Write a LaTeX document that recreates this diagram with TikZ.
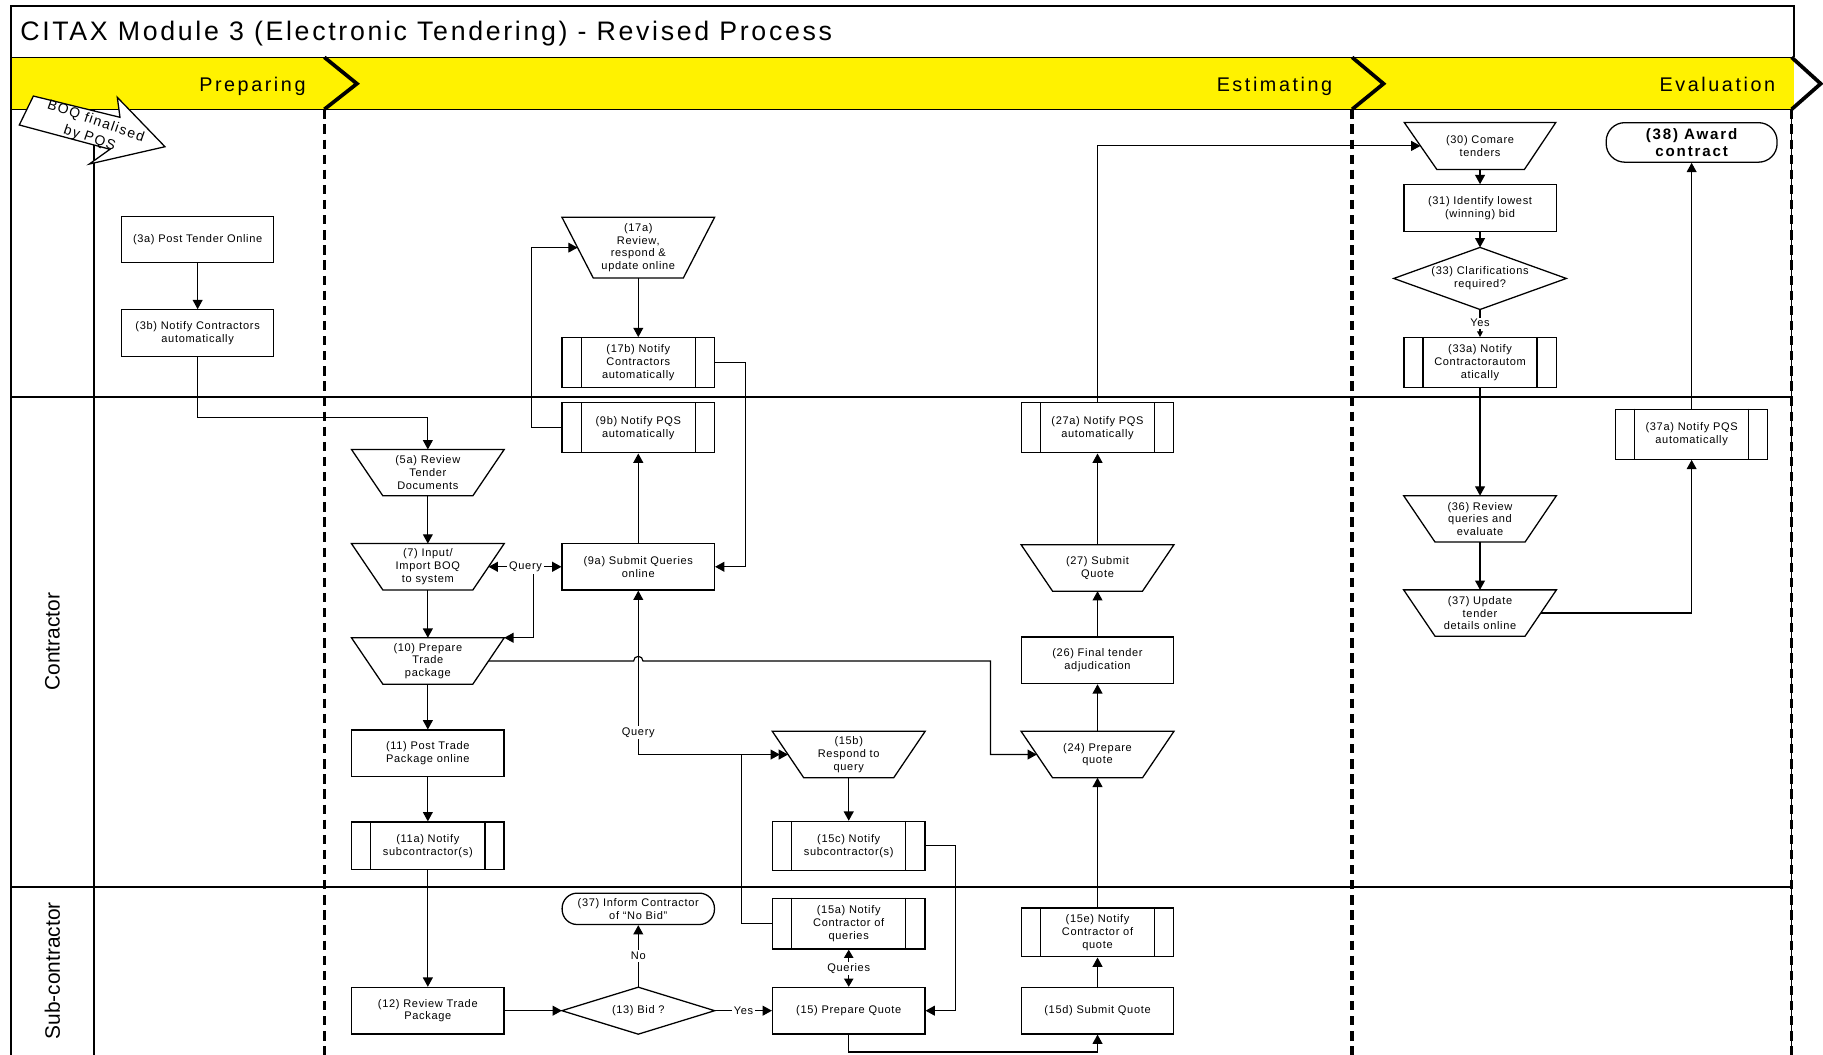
\documentclass[tikz,border=0pt]{standalone}
\usepackage{fontspec}
\setmainfont{Liberation Sans}
\newfontfamily\lsfont[LetterSpace=6]{Liberation Sans}
\newfontfamily\titfont[LetterSpace=10]{Liberation Sans}
\newfontfamily\phfont[LetterSpace=13]{Liberation Sans}
\newfontfamily\boqfont[LetterSpace=10]{Liberation Sans}
\newfontfamily\awfont[LetterSpace=12]{Liberation Sans}
\usetikzlibrary{arrows.meta}
\tikzset{
 bx/.style={font=\lsfont\fontsize{9.5}{11}\selectfont, align=center, inner sep=0pt, minimum width=131pt},
 proc/.style={bx, draw, line width=1.1pt, minimum height=40pt},
 pre/.style={bx, draw, line width=1.1pt, minimum height=43pt},
 man/.style={bx, minimum height=39.5pt},
 dec/.style={bx, minimum height=40pt},
 term/.style={bx, draw, line width=1.1pt, rounded corners=13pt, minimum height=27pt},
 outl/.style={line width=1.1pt, line join=miter},
 arr/.style={line width=1pt, -{Triangle[length=8pt,width=8.5pt]}},
 lbl/.style={font=\lsfont\fontsize{9.5}{11}\selectfont, fill=white, inner sep=1.5pt},
 phase/.style={dash pattern=on 8pt off 5pt, line width=3.2pt},
 lane/.style={line width=1.4pt},
 chev/.style={line width=3.2pt, line join=miter},
}
\begin{document}
\begin{tikzpicture}[x=1pt,y=-1pt]
\useasboundingbox (0,0) rectangle (1568,907);
% frame and band
\fill[yellow] (9.5,49.3) rectangle (1543,94);
\draw[line width=1.2pt] (9.5,907) -- (9.5,5.2) -- (1543,5.2) -- (1543,49.3);
\draw[line width=1.2pt] (9.5,49.3) -- (1543,49.3);
\draw[line width=1.2pt] (9.5,94) -- (1543,94);
\draw[lane] (9.5,341.2) -- (1541,341.2);
\draw[lane] (9.5,762.7) -- (1541,762.7);
\draw[lane] (81,94) -- (81,907);
\draw[line width=1.2pt] (1541,94) -- (1541,907);
\draw[phase] (279,94) -- (279,907);
\draw[phase] (1163,94) -- (1163,907);
\draw[phase] (1541,94) -- (1541,907);
\draw[chev] (279,49.3) -- (307,72) -- (279,94);
\draw[chev] (1163,49.3) -- (1190,72) -- (1163,94);
\draw[chev] (1541,49.3) -- (1566,72) -- (1541,94);
% titles
\node[anchor=base west, font=\titfont\fontsize{23}{28}\selectfont, inner sep=0pt] (title) at (17.3,35) {CITAX Module 3 (Electronic Tendering) - Revised Process};
\node[anchor=base east, font=\phfont\fontsize{17}{20}\selectfont, inner sep=0pt] (ph1) at (263,79) {Preparing};
\node[anchor=base east, font=\phfont\fontsize{17}{20}\selectfont, inner sep=0pt] (ph2) at (1146,79) {Estimating};
\node[anchor=base east, font=\phfont\fontsize{17}{20}\selectfont, inner sep=0pt] (ph3) at (1527,79) {Evaluation};
\node[rotate=90, font=\fontsize{18}{21}\selectfont] (l1) at (45,552) {Contractor};
\node[rotate=90, font=\fontsize{18}{21}\selectfont] (l2) at (45,835) {Sub-contractor};
% BOQ arrow
\draw[line width=1.1pt, fill=white, line join=miter] (28.7,82.6) -- (103.2,100.9) -- (100.9,83.7) -- (141.9,126.2) -- (76.8,141.1) -- (94.6,128.4) -- (16.6,107.5) -- cycle;
\node[rotate=-19, font=\boqfont\fontsize{12}{14}\selectfont, inner sep=0pt] (boq1) at (82.3,104.5) {BOQ finalised};
\node[rotate=-19, font=\boqfont\fontsize{12}{14}\selectfont, inner sep=0pt] (boq2) at (77,119) {by PQS};
% nodes
\node[proc] (a3a) at (170,206) {(3a) Post Tender Online};
\node[proc] (a3b) at (170,286.5) {(3b) Notify Contractors\\automatically};
\node[man, minimum height=52pt] (a17a) at (549,213) {(17a)\\Review,\\respond \&\\update online};
\node[pre] (a17b) at (549,312) {(17b) Notify\\Contractors\\automatically};
\node[pre] (a9b) at (549,368) {(9b) Notify PQS\\automatically};
\node[pre] (a27a) at (944,368) {(27a) Notify PQS\\automatically};
\node[pre] (a37a) at (1455,373.5) {(37a) Notify PQS\\automatically};
\node[man, minimum width=130pt, minimum height=40pt] (a30) at (1273,125.5) {(30) Comare\\tenders};
\node[proc] (a31) at (1273,179) {(31) Identify lowest\\(winning) bid};
\node[dec, minimum width=148pt, minimum height=53pt] (a33) at (1273,239.5) {(33) Clarifications\\required?};
\node[pre] (a33a) at (1273,312) {(33a) Notify\\Contractorautom\\atically};
\node[term, minimum width=147pt, minimum height=34pt, rounded corners=16pt, font=\awfont\bfseries\fontsize{13}{15}\selectfont] (a38) at (1455,122.5) {(38) Award\\contract};
\node[man] (a5a) at (368,406.5) {(5a) Review\\Tender\\Documents};
\node[man] (a7) at (368,487.5) {(7) Input/\\Import BOQ\\to system};
\node[proc] (a9a) at (549,487.5) {(9a) Submit Queries\\online};
\node[man] (a10) at (368,568.5) {(10) Prepare\\Trade\\package};
\node[proc] (a11) at (368,648) {(11) Post Trade\\Package online};
\node[pre, minimum height=41pt] (a11a) at (368,727.5) {(11a) Notify\\subcontractor(s)};
\node[man] (a15b) at (730,649) {(15b)\\Respond to\\query};
\node[pre, minimum height=42pt] (a15c) at (730,727.5) {(15c) Notify\\subcontractor(s)};
\node[man] (a24) at (944,649) {(24) Prepare\\quote};
\node[proc] (a26) at (944,568) {(26) Final tender\\adjudication};
\node[man] (a27) at (944,488.5) {(27) Submit\\Quote};
\node[man] (a36) at (1273,446.3) {(36) Review\\queries and\\evaluate};
\node[man] (a37) at (1273,527.3) {(37) Update\\tender\\details online};
\node[proc] (a12) at (368,869.3) {(12) Review Trade\\Package};
\node[dec] (a13) at (549,869.3) {(13) Bid ?};
\node[term] (a37i) at (549,781.7) {(37) Inform Contractor\\of “No Bid”};
\node[pre, minimum height=43.6pt] (a15a) at (730,794.5) {(15a) Notify\\Contractor of\\queries};
\node[proc] (a15) at (730,869.3) {(15) Prepare Quote};
\node[pre, minimum height=42pt] (a15e) at (944,802) {(15e) Notify\\Contractor of\\quote};
\node[proc] (a15d) at (944,869.3) {(15d) Submit Quote};
% outlines
\foreach \n in {a5a,a7,a10,a15b,a24,a27,a36,a37,a17a}
  \draw[outl] (\n.north west) -- (\n.north east) -- ([xshift=-27pt]\n.south east) -- ([xshift=27pt]\n.south west) -- cycle;
\draw[outl] (a30.north west) -- (a30.north east) -- ([xshift=-27pt]a30.south east) -- ([xshift=28pt]a30.south west) -- cycle;
\foreach \n in {a17b,a9b,a27a,a37a,a33a,a11a,a15c,a15a,a15e}
  \draw[outl] ([xshift=17pt]\n.north west) -- ([xshift=17pt]\n.south west) ([xshift=-17pt]\n.north east) -- ([xshift=-17pt]\n.south east);
\foreach \n in {a33,a13}
  \draw[outl] (\n.north) -- (\n.east) -- (\n.south) -- (\n.west) -- cycle;
% connectors
\draw[arr] (a3a.south) -- (a3b.north);
\draw[arr] (a3b.south) -- ++(0,52) -| (a5a.north);
\draw[arr] (a17a.south) -- (a17b.north);
\draw[arr] (a17b.east) -- ++(26,0) |- (a9a.east);
\draw[arr] (a9b.west) -- ++(-26,0) |- ([xshift=13.5pt]a17a.west);
\draw[arr] (a9a.north) -- (a9b.south);
\draw[arr] (a5a.south) -- (a7.north);
\draw[arr] (a7.south) -- (a10.north);
\draw[arr] (a10.south) -- (a11.north);
\draw[arr] (a11.south) -- (a11a.north);
\draw[arr] (a11a.south) -- (a12.north);
\coordinate (jq) at (459,487.5);
\draw[arr] (jq) -- ([xshift=-13.5pt]a7.east);
\draw[arr] (jq) -- (a9a.west);
\draw[arr] (jq) |- (a10.north east);
\node[lbl] (q1) at (452,487.5) {Query};
\draw[arr] ([xshift=-13.5pt]a10.east) -- (545,568.5) arc[start angle=180,end angle=0,radius=4pt] -- (852,568.5) |- ([xshift=13.5pt]a24.west);
\coordinate (jq2) at (638,649);
\draw[arr] (a15a.west) -| (jq2) -- ([xshift=13.5pt]a15b.west);
\draw[arr, shorten >=7pt] (jq2) -- ([xshift=13.5pt]a15b.west);
\draw[arr] (jq2) -| (a9a.south);
\node[lbl] (q2) at (549,630) {Query};
\draw[arr] (a15b.south) -- (a15c.north);
\draw[arr] (a15c.east) -- ++(26,0) |- (a15.east);
\draw[arr] (a12.east) -- (a13.west);
\draw[arr] (a13.east) -- (a15.west);
\node[lbl] (y1) at (639.5,869.3) {Yes};
\draw[arr] (a13.north) -- (a37i.south);
\node[lbl] (n1) at (549,822.3) {No};
\draw[line width=1pt, {Triangle[length=7pt,width=8pt]}-{Triangle[length=7pt,width=8pt]}] (a15.north) -- (a15a.south);
\node[lbl] (qs) at (730,833) {Queries};
\draw[arr] (a15.south) -- ++(0,15) -| (a15d.south);
\draw[arr] (a15d.north) -- (a15e.south);
\draw[arr] (a15e.north) -- (a24.south);
\draw[arr] (a24.north) -- (a26.south);
\draw[arr] (a26.north) -- (a27.south);
\draw[arr] (a27.north) -- (a27a.south);
\draw[arr] (a27a.north) |- ([xshift=14pt]a30.west);
\draw[arr] (a30.south) -- (a31.north);
\draw[arr] (a31.south) -- (a33.north);
\draw[line width=1pt, -{Triangle[length=5pt,width=5pt]}] (a33.south) -- (a33a.north);
\node[lbl] (y2) at (1273,278) {Yes};
\draw[arr] (a33a.south) -- (a36.north);
\draw[arr] (a36.south) -- (a37.north);
\draw[arr] ([xshift=-13.5pt]a37.east) -| (a37a.south);
\draw[arr] (a37a.north) -- (a38.south);
\end{tikzpicture}
\end{document}
